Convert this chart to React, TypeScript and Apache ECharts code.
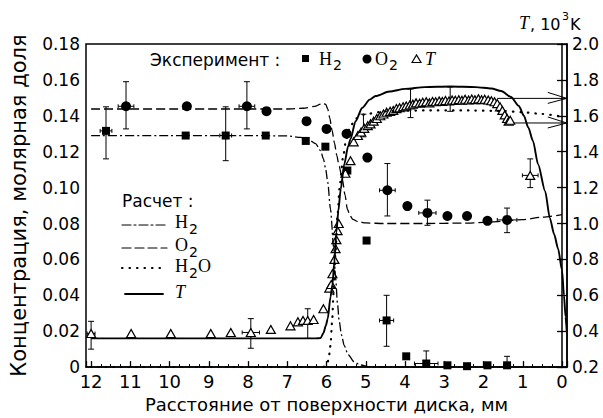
import React, { useEffect, useRef } from "react";
import * as echarts from "echarts";

const SANS = "'DejaVu Sans', 'Liberation Sans', sans-serif";
const SERIF = "'Liberation Serif', 'DejaVu Serif', serif";

// ---- Calculated curves (distance mm, value) ----
const h2Calc: number[][] = [
  [12, 0.129], [10, 0.129], [8, 0.129], [7, 0.1288], [6.66, 0.128], [6.45, 0.1265], [6.28, 0.1245],
  [6.15, 0.1205], [6.08, 0.116], [6.02, 0.11], [5.97, 0.103], [5.9, 0.088], [5.82, 0.067],
  [5.77, 0.05], [5.72, 0.035], [5.68, 0.026], [5.62, 0.018], [5.55, 0.012], [5.45, 0.007],
  [5.3, 0.003], [5.15, 0.0012], [4.9, 0.0002], [4.5, 0], [0, 0],
];
const o2Calc: number[][] = [
  [12, 0.1438], [9, 0.1438], [7, 0.1438], [6.6, 0.1442], [6.3, 0.1452], [6.15, 0.1465], [6.08, 0.147],
  [6.02, 0.1463], [5.97, 0.1438], [5.92, 0.139], [5.86, 0.132], [5.8, 0.125], [5.74, 0.118],
  [5.68, 0.112], [5.6, 0.105], [5.53, 0.096], [5.47, 0.088], [5.4, 0.0843], [5.33, 0.0823],
  [5.2, 0.081], [5.0, 0.0803], [4.5, 0.08], [3.5, 0.08], [2.5, 0.0802], [2, 0.0806],
  [1.5, 0.0812], [1, 0.0822], [0.5, 0.0835], [0, 0.085],
];
const h2oCalc: number[][] = [
  [12, 0], [8, 0], [6.1, 0], [6.0, 0.001], [5.95, 0.004], [5.9, 0.012], [5.86, 0.025], [5.82, 0.042],
  [5.77, 0.065], [5.72, 0.085], [5.66, 0.102], [5.58, 0.117], [5.5, 0.127], [5.4, 0.134],
  [5.25, 0.1385], [5.0, 0.141], [4.5, 0.1425], [3.5, 0.143], [2.5, 0.143], [1.5, 0.1427],
  [1.0, 0.142], [0.5, 0.141], [0, 0.1395],
];
const tCalc: number[][] = [
  [12, 0.36], [8, 0.36], [6.3, 0.36], [6.15, 0.362], [6.08, 0.39], [6.02, 0.43], [5.97, 0.47],
  [5.9, 0.59], [5.85, 0.66], [5.8, 0.79], [5.75, 0.95], [5.7, 1.07], [5.64, 1.19], [5.55, 1.33],
  [5.45, 1.43], [5.39, 1.47], [5.26, 1.57], [5.09, 1.645], [4.9, 1.69], [4.75, 1.71],
  [4.4, 1.735], [4.0, 1.75], [3.5, 1.76], [2.85, 1.763], [2.2, 1.76], [1.8, 1.752],
  [1.55, 1.738], [1.3, 1.705], [1.1, 1.655], [0.97, 1.6], [0.86, 1.535], [0.74, 1.46],
  [0.61, 1.33], [0.43, 1.18], [0.31, 1.03], [0.2, 0.94], [0.1, 0.86], [0.0, 0.74],
  [-0.05, 0.6], [-0.09, 0.48], [-0.12, 0.4],
];

// ---- Experimental points ----
const h2Exp: number[][] = [
  [11.62, 0.1316], [9.59, 0.129], [8.57, 0.129], [7.55, 0.129], [6.53, 0.126], [6.03, 0.1228],
  [5.47, 0.1095], [4.98, 0.0705], [4.47, 0.026], [3.97, 0.006], [3.46, 0.002], [2.92, 0.001],
  [2.42, 0.0005], [1.9, 0.001], [1.4, 0.001],
];
const o2Exp: number[][] = [
  [11.11, 0.1453], [9.56, 0.1453], [8.03, 0.1453], [7.53, 0.1426], [6.51, 0.137], [6.0, 0.1327],
  [5.49, 0.13], [4.96, 0.1167], [4.45, 0.0985], [3.94, 0.0897], [3.43, 0.0859], [2.92, 0.0842],
  [2.42, 0.0842], [1.9, 0.0815], [1.4, 0.082],
];
const tExp: number[][] = [
  [12.0, 0.387], [10.98, 0.387], [9.97, 0.387], [8.95, 0.387], [8.44, 0.393], [7.93, 0.393],
  [7.42, 0.41], [6.92, 0.43], [6.73, 0.452], [6.6, 0.46], [6.48, 0.46], [6.33, 0.465], [6.08, 0.525],
  [5.93, 0.64], [5.88, 0.66], [5.85, 0.72], [5.8, 0.8], [5.77, 0.86], [5.75, 0.91], [5.72, 0.96],
  [5.69, 1.0], [5.52, 1.28], [5.39, 1.35], [5.31, 1.455], [5.2, 1.49], [5.12, 1.51], [5.04, 1.53],
  [4.95, 1.545], [4.88, 1.555], [4.8, 1.57], [4.72, 1.585], [4.63, 1.6], [4.55, 1.61], [4.47, 1.62],
  [4.38, 1.625], [4.3, 1.63], [4.22, 1.64], [4.14, 1.645], [4.05, 1.65], [3.97, 1.655], [3.88, 1.66],
  [3.8, 1.665], [3.72, 1.672], [3.63, 1.67], [3.55, 1.675], [3.46, 1.678], [3.38, 1.672], [3.3, 1.68],
  [3.22, 1.678], [3.13, 1.683], [3.05, 1.68], [2.97, 1.685], [2.88, 1.683], [2.8, 1.688], [2.72, 1.686],
  [2.63, 1.69], [2.55, 1.687], [2.47, 1.692], [2.38, 1.688], [2.3, 1.693], [2.22, 1.69], [2.13, 1.695],
  [2.05, 1.69], [1.97, 1.692], [1.88, 1.688], [1.8, 1.684], [1.72, 1.678], [1.65, 1.668], [1.58, 1.65],
  [1.52, 1.63], [1.46, 1.605], [1.4, 1.585], [1.36, 1.57], [1.32, 1.575], [0.81, 1.268],
];

// ---- Error bars: [x, y, yLow, yHigh, xErr] ----
const concErr: number[][] = [
  [11.62, 0.1316, 0.116, 0.145, 0.15],
  [8.57, 0.129, 0.115, 0.145, 0.15],
  [4.47, 0.026, 0.0116, 0.04, 0.18],
  [3.46, 0.002, 0.0, 0.009, 0.3],
  [1.4, 0.001, 0.0, 0.006, 0],
  [11.11, 0.1453, 0.1327, 0.159, 0.2],
  [8.03, 0.1453, 0.1327, 0.159, 0.2],
  [4.45, 0.0985, 0.0842, 0.1134, 0.2],
  [3.43, 0.0859, 0.079, 0.093, 0.22],
  [1.4, 0.082, 0.0749, 0.0886, 0.25],
];
const tErr: number[][] = [
  [12.0, 0.387, 0.3, 0.455, 0.1],
  [7.93, 0.393, 0.305, 0.47, 0.22],
  [6.48, 0.46, 0.36, 0.525, 0],
  [5.06, 1.53, 1.483, 1.609, 0],
  [3.86, 1.665, 1.59, 1.75, 0],
  [2.85, 1.688, 1.625, 1.76, 0],
  [0.81, 1.268, 1.2, 1.36, 0.2],
];
// Arrows to the wall: [start distance, T]
const arrows: number[][] = [
  [1.65, 1.697],
  [1.45, 1.56],
];
const X_MIN = -0.127;
const X_MAX = 12.13;

const errorBarItem = (params: any, api: any) => {
  const x = api.value(0), y = api.value(1), lo = api.value(2), hi = api.value(3), xe = api.value(4);
  const style = { stroke: "#000", lineWidth: 1 };
  const children: any[] = [];
  if (hi > lo) {
    const a = api.coord([x, lo]);
    const b = api.coord([x, hi]);
    children.push({ type: "line", shape: { x1: a[0], y1: a[1], x2: b[0], y2: b[1] }, style });
    children.push({ type: "line", shape: { x1: a[0] - 3, y1: a[1], x2: a[0] + 3, y2: a[1] }, style });
    children.push({ type: "line", shape: { x1: b[0] - 3, y1: b[1], x2: b[0] + 3, y2: b[1] }, style });
  }
  if (xe > 0) {
    const l = api.coord([x + xe, y]);
    const r = api.coord([x - xe, y]);
    children.push({ type: "line", shape: { x1: l[0], y1: l[1], x2: r[0], y2: r[1] }, style });
    children.push({ type: "line", shape: { x1: l[0], y1: l[1] - 2, x2: l[0], y2: l[1] + 2 }, style });
    children.push({ type: "line", shape: { x1: r[0], y1: r[1] - 2, x2: r[0], y2: r[1] + 2 }, style });
  }
  return { type: "group", children };
};

const arrowItem = (params: any, api: any) => {
  const x = api.value(0), y = api.value(1);
  const s = api.coord([x, y]);
  const e = api.coord([X_MIN + 0.005, y]);
  const style = { stroke: "#000", lineWidth: 1, fill: "none" };
  return {
    type: "group",
    children: [
      { type: "line", shape: { x1: s[0], y1: s[1], x2: e[0], y2: e[1] }, style },
      { type: "polyline", shape: { points: [[e[0] - 19, e[1] - 6], [e[0], e[1]], [e[0] - 19, e[1] + 5]] }, style },
    ],
  };
};

const txt = (text: string, x: number, y: number, o: any = {}) => ({
  type: "text",
  x,
  y,
  silent: true,
  style: {
    text,
    fill: "#000",
    fontSize: o.size ?? 17,
    fontFamily: o.family ?? SANS,
    fontStyle: o.italic ? "italic" : "normal",
    align: "left",
    verticalAlign: "middle",
  },
});
const hline = (x1: number, x2: number, y: number, dash: any, width = 1.2) => ({
  type: "line",
  silent: true,
  shape: { x1, y1: y, x2, y2: y },
  style: { stroke: "#000", lineWidth: width, lineDash: dash, lineCap: "round" },
});

export default function App() {
  const ref = useRef<HTMLDivElement>(null);
  useEffect(() => {
    if (!ref.current) return;
    const chart = echarts.init(ref.current, undefined, { renderer: "svg" });
    const option: any = {
      animation: false,
      backgroundColor: "#fff",
      textStyle: { fontFamily: SANS, color: "#000" },
      grid: { left: 85, right: 36, top: 44, bottom: 47, show: true, borderColor: "#000", borderWidth: 1.5, backgroundColor: "transparent" },
      xAxis: {
        type: "value",
        inverse: true,
        min: X_MIN,
        max: X_MAX,
        splitNumber: 12,
        axisLine: { lineStyle: { color: "#000", width: 1.5 } },
        axisTick: { inside: true, length: 6, lineStyle: { color: "#000", width: 1.3 } },
        minorTick: { show: true, splitNumber: 4, length: 3, lineStyle: { color: "#000", width: 1 } },
        splitLine: { show: false },
        minorSplitLine: { show: false },
        axisLabel: {
          color: "#000",
          fontSize: 18,
          fontFamily: SANS,
          margin: 5,
          formatter: (v: number) => (Math.abs(v - Math.round(v)) < 1e-6 ? String(Math.abs(Math.round(v))) : ""),
        },
        name: "Расстояние от поверхности диска, мм",
        nameLocation: "middle",
        nameGap: 24,
        nameTextStyle: { color: "#000", fontSize: 18, fontFamily: SANS },
      },
      yAxis: [
        {
          type: "value",
          position: "left",
          min: 0,
          max: 0.18,
          interval: 0.02,
          axisLine: { show: true, lineStyle: { color: "#000", width: 1.5 } },
          axisTick: { show: true, inside: false, length: 5, lineStyle: { color: "#000", width: 1.3 } },
          splitLine: { show: false },
          axisLabel: {
            color: "#000",
            fontSize: 17,
            fontFamily: SANS,
            margin: 6,
            formatter: (v: number) => (Math.abs(v) < 1e-9 ? "0" : v.toFixed(2)),
          },
          name: "Концентрация, молярная доля",
          nameLocation: "middle",
          nameGap: 57,
          nameTextStyle: { color: "#000", fontSize: 21, fontFamily: SANS },
        },
        {
          type: "value",
          position: "right",
          min: 0.2,
          max: 2.0,
          interval: 0.2,
          axisLine: { show: true, lineStyle: { color: "#000", width: 1.5 } },
          axisTick: { show: true, inside: true, length: 6, lineStyle: { color: "#000", width: 1.3 } },
          splitLine: { show: false },
          axisLabel: {
            color: "#000",
            fontSize: 17,
            fontFamily: SANS,
            margin: 5,
            formatter: (v: number) => v.toFixed(1),
          },
        },
      ],
      series: [
        {
          type: "line", name: "H2 calc", data: h2Calc, symbol: "none", silent: true,
          smooth: 0.25, smoothMonotone: "x",
          lineStyle: { color: "#000", width: 1.3, type: [9, 3, 2, 3] },
        },
        {
          type: "line", name: "O2 calc", data: o2Calc, symbol: "none", silent: true,
          smooth: 0.25, smoothMonotone: "x",
          lineStyle: { color: "#000", width: 1.3, type: [9, 4] },
        },
        {
          type: "line", name: "H2O calc", data: h2oCalc, symbol: "none", silent: true,
          smooth: 0.25, smoothMonotone: "x",
          lineStyle: { color: "#000", width: 2.2, type: [0.5, 7], cap: "round" },
        },
        {
          type: "line", name: "T calc", data: tCalc, yAxisIndex: 1, symbol: "none", silent: true,
          smooth: 0.25, smoothMonotone: "x",
          lineStyle: { color: "#000", width: 1.9 },
        },
        {
          type: "custom", name: "conc err", data: concErr, renderItem: errorBarItem, silent: true,
          encode: { x: 0, y: 1 },
        },
        {
          type: "custom", name: "T err", data: tErr, yAxisIndex: 1, renderItem: errorBarItem, silent: true,
          encode: { x: 0, y: 1 },
        },
        {
          type: "custom", name: "arrows", data: arrows, yAxisIndex: 1, renderItem: arrowItem, silent: true,
          encode: { x: 0, y: 1 },
        },
        {
          type: "scatter", name: "H2 exp", data: h2Exp, symbol: "rect", symbolSize: 8, silent: true,
          itemStyle: { color: "#000", opacity: 1 },
        },
        {
          type: "scatter", name: "O2 exp", data: o2Exp, symbol: "circle", symbolSize: 10, silent: true,
          itemStyle: { color: "#000", opacity: 1 },
        },
        {
          type: "scatter", name: "T exp", data: tExp, yAxisIndex: 1, symbol: "triangle", symbolSize: [9, 8], silent: true,
          itemStyle: { color: "#fff", borderColor: "#000", borderWidth: 1.2, opacity: 1 },
        },
      ],
      graphic: [
        // experiment legend
        txt("Эксперимент :", 150, 60),
        { type: "rect", silent: true, shape: { x: 302, y: 55, width: 7, height: 7 }, style: { fill: "#000" } },
        txt("H", 319, 59, { family: SERIF, size: 18 }),
        txt("2", 333, 65, { size: 14 }),
        { type: "circle", silent: true, shape: { cx: 367, cy: 59, r: 4.5 }, style: { fill: "#000" } },
        txt("O", 375, 59, { family: SERIF, size: 18 }),
        txt("2", 389, 65, { size: 14 }),
        { type: "polygon", silent: true, shape: { points: [[412, 62.5], [416.5, 55], [421, 62.5]] }, style: { fill: "#fff", stroke: "#000", lineWidth: 1.2 } },
        txt("T", 425, 59, { family: SERIF, size: 18, italic: true }),
        // calculation legend
        txt("Расчет :", 122, 201),
        hline(122, 167, 225, [9, 3, 2, 3]),
        txt("H", 175, 222, { family: SERIF, size: 18 }),
        txt("2", 189, 229, { size: 14 }),
        hline(122, 167, 248, [9, 4]),
        txt("O", 175, 245, { family: SERIF, size: 18 }),
        txt("2", 189, 252, { size: 14 }),
        hline(122, 167, 268, [0.5, 7], 2.2),
        txt("H", 175, 266, { family: SERIF, size: 18 }),
        txt("2", 189, 273, { size: 14 }),
        txt("O", 198, 266, { family: SERIF, size: 18 }),
        hline(125, 163, 294, null, 1.8),
        txt("T", 175, 292, { family: SERIF, size: 18, italic: true }),
        // right axis title
        txt("T", 519, 23, { family: SERIF, size: 18, italic: true }),
        txt(", 10", 530, 24, { size: 16 }),
        txt("3", 562, 16, { size: 11 }),
        txt("K", 570, 24, { size: 16 }),
      ],
    };
    chart.setOption(option);
    return () => chart.dispose();
  }, []);
  return <div ref={ref} style={{ position: "fixed", left: 0, top: 0, width: 603, height: 418, background: "#fff" }} />;
}
